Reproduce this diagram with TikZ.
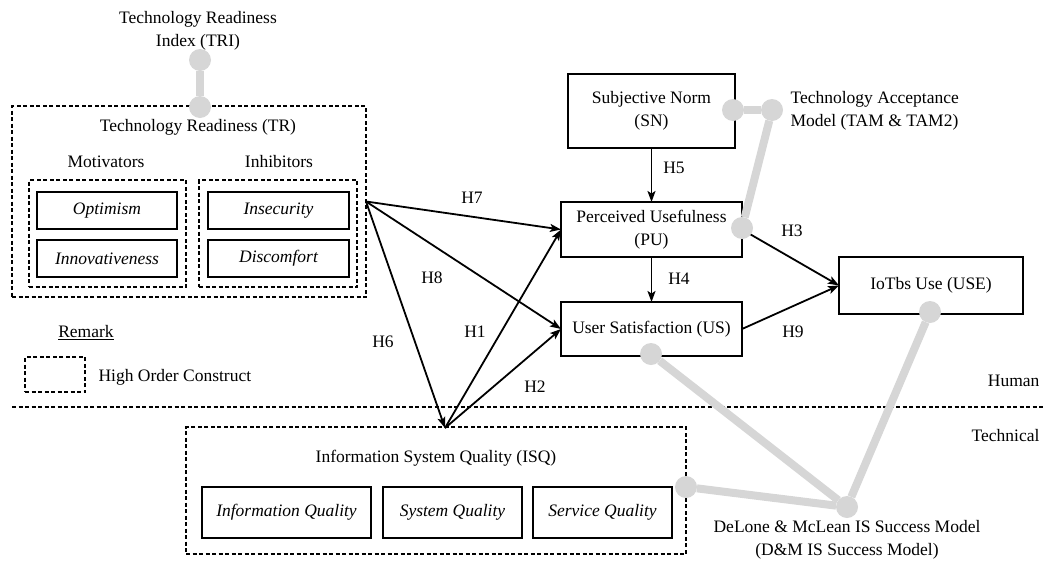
\documentclass[tikz,border=0pt]{standalone}
\usepackage{fontspec}
\setmainfont{Liberation Serif}
\usetikzlibrary{arrows.meta}
\definecolor{lgray}{RGB}{214,214,214}
\begin{document}
\begin{tikzpicture}[x=1pt,y=-1pt,
  font=\fontsize{17.5}{23}\selectfont,
  hoc/.style={draw, dash pattern=on 4pt off 2.5pt, line width=1.8pt, inner sep=0pt, outer sep=0pt},
  sepline/.style={draw, dash pattern=on 4pt off 2.5pt, line width=1.8pt},
  sbox/.style={draw, line width=2.2pt, inner sep=0pt, outer sep=0pt, align=center},
  lab/.style={inner sep=1pt},
  arr/.style={line width=1.8pt, -{Stealth[length=11pt,width=8pt,inset=2.5pt]}},
  gdot/.style={circle, fill=lgray, minimum size=22pt, inner sep=0pt, outer sep=0pt},
  gline/.style={draw=lgray, line width=8pt}]
\useasboundingbox (0,0) rectangle (1044,560);

% ---- Technology Readiness block
\node[align=center] (tri) at (198,31) {Technology Readiness\\Index (TRI)};
\node[hoc, minimum width=354pt, minimum height=191pt] (TR) at (189,201.5) {};
\node (trlab) at (198,127) {Technology Readiness (TR)};
\node (motlab) at (106,162) {Motivators};
\node (inhlab) at (279,162) {Inhibitors};
\node[hoc, minimum width=157pt, minimum height=107pt] (MOT) at (107.5,233.5) {};
\node[hoc, minimum width=158pt, minimum height=107pt] (INH) at (278,233.5) {};
\node[sbox, minimum width=140pt, minimum height=37pt] (opt) at (107,210.5) {\itshape Optimism};
\node[sbox, minimum width=140pt, minimum height=37pt] (inn) at (107,258.5) {\itshape Innovativeness};
\node[sbox, minimum width=141pt, minimum height=37pt] (ins) at (278.5,210.5) {\itshape Insecurity};
\node[sbox, minimum width=141pt, minimum height=37pt] (dis) at (278.5,258.5) {\itshape Discomfort};

% ---- legend
\node (rem) at (86,333) {\underline{Remark}};
\node[hoc, minimum width=60pt, minimum height=35pt] (leg) at (55,374.5) {};
\node[anchor=west] (legtxt) at (95,377) {High Order Construct};

% ---- human / technical separator
\coordinate (sepL) at (12,407);
\coordinate (sepR) at (1044,407);
\draw[sepline] (sepL) -- (sepR);
\node[anchor=east] (human) at (1043,381) {Human};
\node[anchor=east] (tech) at (1043,436) {Technical};

% ---- right-hand constructs
\node[sbox, minimum width=167pt, minimum height=74pt] (SN) at (651.5,111) {Subjective Norm\\(SN)};
\node[sbox, minimum width=181pt, minimum height=55pt] (PU) at (651.5,229.5) {Perceived Usefulness\\(PU)};
\node[sbox, minimum width=181pt, minimum height=54pt] (US) at (651.5,329) {User Satisfaction (US)};
\node[sbox, minimum width=184pt, minimum height=57pt] (USE) at (931,285.5) {IoTbs Use (USE)};
\node[anchor=west, align=left] (tam) at (787,111) {Technology Acceptance\\Model (TAM \& TAM2)};

% ---- ISQ block
\node[hoc, minimum width=500pt, minimum height=127pt] (ISQ) at (436,490.5) {};
\node (isqlab) at (436,458) {Information System Quality (ISQ)};
\node[sbox, minimum width=169pt, minimum height=51pt] (iq) at (286.5,512.5) {\itshape Information Quality};
\node[sbox, minimum width=139pt, minimum height=51pt] (sq) at (452.5,512.5) {\itshape System Quality};
\node[sbox, minimum width=139pt, minimum height=51pt] (svq) at (602.5,512.5) {\itshape Service Quality};
\node[align=center] (dm) at (847,540) {DeLone \& McLean IS Success Model\\(D\&M IS Success Model)};

\coordinate (isq) at (445,428);

% ---- hypotheses arrows
\draw[arr] (TR.east) -- (PU.west);
\draw[arr] (TR.east) -- (US.west);
\draw[arr] (TR.east) -- (isq);
\draw[arr] (isq) -- (PU.west);
\draw[arr] (isq) -- (US.west);
\draw[arr] (SN.south) -- (PU.north);
\draw[arr] (PU.south) -- (US.north);
\draw[arr] (PU.east) -- (USE.west);
\draw[arr] (US.east) -- (USE.west);

\node[lab] (h7) at (472,198) {H7};
\node[lab] (h8) at (432,278) {H8};
\node[lab] (h1) at (475,332) {H1};
\node[lab] (h6) at (383,342) {H6};
\node[lab] (h2) at (535,387) {H2};
\node[lab] (h5) at (674,168) {H5};
\node[lab] (h4) at (679,279) {H4};
\node[lab] (h3) at (792,231) {H3};
\node[lab] (h9) at (793,332) {H9};

% ---- grey theory links
\node[gdot] (g1) at (200,60) {};
\node[gdot] (g2) at (200,107) {};
\node[gdot] (gsn) at (733,110) {};
\node[gdot] (gtam) at (772,110) {};
\node[gdot] (gpu) at (742,228) {};
\node[gdot] (gus) at (651,354) {};
\node[gdot] (guse) at (930,312) {};
\node[gdot] (gisq) at (686,487) {};
\node[gdot] (gdm) at (847,507) {};
\draw[gline] (g1) -- (g2);
\draw[gline] (gsn) -- (gtam);
\draw[gline] (gtam) -- (gpu);
\draw[gline] (gus) -- (gdm);
\draw[gline] (guse) -- (gdm);
\draw[gline] (gisq) -- (gdm);
\end{tikzpicture}
\end{document}
